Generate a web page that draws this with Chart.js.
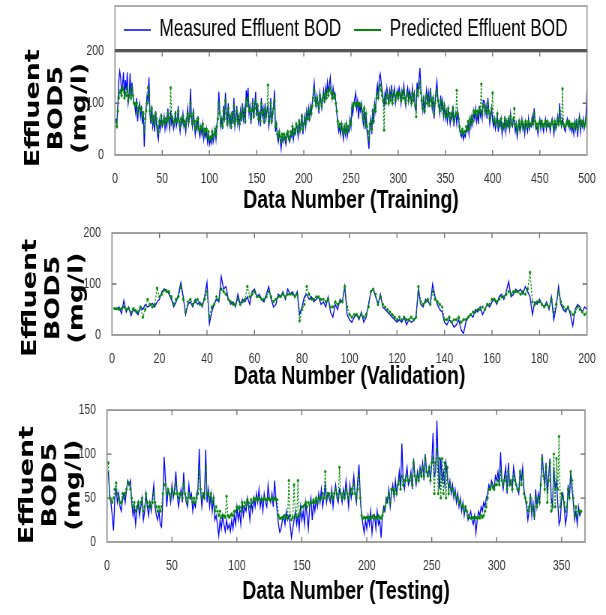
<!DOCTYPE html>
<html>
<head>
<meta charset="utf-8">
<script src="https://cdn.jsdelivr.net/npm/chart.js@4.4.1/dist/chart.umd.min.js"></script>
<style>
html,body{margin:0;padding:0;background:#fff;overflow:hidden;width:606px;height:615px;}
.panel{position:absolute;left:0;width:808px;transform:scaleX(0.75);transform-origin:0 0;}
canvas{display:block;}
</style>
</head>
<body>
<div class="panel" style="top:0;height:215px;"><canvas id="c1" width="808" height="215" style="width:808px;height:215px;"></canvas></div>
<div class="panel" style="top:215px;height:180px;"><canvas id="c2" width="808" height="180" style="width:808px;height:180px;"></canvas></div>
<div class="panel" style="top:395px;height:220px;"><canvas id="c3" width="808" height="220" style="width:808px;height:220px;"></canvas></div>
<script>
// ---------------- DATA ----------------
const seriesNames = ['Measured Effluent BOD', 'Predicted Effluent BOD'];
const yTitleLines = ['Effluent', 'BOD5', '(mg/l)'];
const xTitles = ['Data Number (Training)', 'Data Number (Validation)', 'Data Number (Testing)'];

const trainMeasured = [
70,60,95,140,162,150,120,135,160,110,
145,125,160,100,115,158,110,140,118,100,
95,80,110,65,90,100,75,95,60,85,
16,65,90,115,105,150,80,60,95,55,
70,45,85,60,40,30,65,50,80,55,
60,75,50,70,55,90,65,50,85,60,
70,50,60,85,55,65,95,60,45,70,
60,80,55,65,45,70,90,60,75,128,
70,55,90,60,40,65,50,75,45,35,
55,40,60,30,45,35,50,25,40,20,
30,22,45,25,35,50,30,60,75,122,
85,55,70,50,95,65,120,80,55,100,
60,75,50,85,60,110,55,70,95,60,
75,55,85,65,100,70,90,60,125,105,
130,80,95,60,85,110,70,95,122,75,
100,65,80,55,110,75,90,60,100,70,
85,95,55,70,110,60,80,95,125,45,
60,35,25,45,30,12,35,25,40,30,
20,35,45,30,25,40,35,55,30,45,
40,60,50,35,70,45,55,80,40,60,
75,55,85,70,90,65,95,80,100,120,
140,110,95,115,100,80,120,105,90,110,
125,100,130,115,140,120,135,150,125,110,
130,115,120,100,80,60,45,55,40,60,
45,30,55,40,60,35,50,45,70,55,
95,80,100,110,120,90,105,70,95,85,
100,75,60,95,50,80,45,30,12,55,
70,40,90,60,100,85,120,135,110,150,
157,140,125,110,95,120,105,130,115,100,
125,110,135,105,120,130,100,115,125,110,
130,120,100,125,115,135,110,95,120,130,
105,125,115,100,130,110,120,90,85,140,
120,145,168,130,100,85,115,80,105,125,
100,120,95,130,110,90,115,70,100,125,
142,110,95,80,115,90,105,75,95,70,
85,65,90,75,60,80,70,95,55,75,
80,60,85,70,50,40,35,45,30,40,
35,50,45,60,40,70,55,75,60,85,
70,90,65,80,60,95,75,85,70,105,
105,80,95,70,110,85,60,75,90,65,
55,70,50,60,80,45,65,55,70,40,
60,50,75,45,65,55,70,50,80,60,
55,70,65,45,60,35,50,65,45,55,
70,50,60,40,65,55,45,70,50,60,
55,75,60,90,65,50,55,40,60,70,
50,65,55,45,60,70,50,65,55,60,
45,60,70,55,40,65,50,60,75,55,
100,65,55,70,60,50,45,60,70,55,
65,50,60,45,55,40,65,50,70,35,
60,75,45,65,55,70,50,60,80,133
];
const trainPredicted = [
65,55,85,110,120,125,115,130,125,110,
120,115,130,105,115,125,110,130,115,100,
100,95,100,80,90,95,85,90,75,80,
45,70,85,100,130,115,85,70,90,65,
75,60,80,70,55,45,65,60,75,60,
65,70,60,70,65,80,70,60,130,75,
70,60,65,80,65,70,85,65,55,70,
65,75,60,65,55,70,80,65,75,100,
75,60,80,65,50,65,55,70,50,45,
55,50,60,40,50,45,50,35,45,30,
35,30,45,35,40,50,40,55,70,100,
80,60,70,55,85,70,105,80,60,90,
65,75,55,80,65,95,60,70,85,65,
75,60,80,70,90,75,85,65,105,95,
110,85,90,70,85,100,75,90,105,80,
95,70,80,65,100,80,85,65,90,75,
85,135,65,75,100,65,80,90,105,55,
60,40,35,45,35,25,40,30,40,35,
30,40,45,35,30,45,40,55,40,50,
45,60,55,45,65,50,60,75,50,60,
70,60,80,70,85,70,90,80,95,110,
125,105,95,110,100,90,115,105,95,110,
115,105,120,110,125,115,125,130,120,110,
120,110,115,100,85,65,55,60,50,60,
50,40,55,45,60,45,55,50,65,60,
90,95,100,100,95,100,100,95,100,95,
95,85,70,90,60,80,55,45,30,60,
65,50,85,65,95,85,110,120,110,130,
135,125,115,105,48,110,100,120,110,100,
115,105,125,100,115,120,105,115,120,110,
120,115,105,120,110,125,110,100,115,120,
105,115,110,100,120,105,115,95,74,125,
115,130,140,120,105,90,110,85,100,115,
100,110,95,120,105,95,110,80,100,115,
125,105,95,85,105,90,100,80,95,75,
85,75,90,80,70,80,75,90,65,75,
80,125,80,70,55,45,45,50,40,45,
45,55,50,65,50,70,60,75,65,85,
80,85,75,85,80,90,85,137,80,95,
95,85,90,80,100,85,70,80,90,120,
65,70,60,65,80,55,65,60,70,50,
60,55,70,55,65,60,70,55,75,60,
60,70,90,55,60,45,55,65,50,60,
65,55,60,50,65,60,55,65,55,60,
60,70,60,80,65,55,60,50,60,65,
55,65,60,55,60,65,55,65,60,60,
55,60,65,60,50,65,55,60,70,60,
85,65,60,128,60,55,55,60,65,60,
65,55,60,55,60,50,60,55,65,50,
60,70,55,65,60,65,55,60,70,55
];

const valMeasured = [
52,50,55,42,68,45,55,38,50,45,
40,55,50,60,55,58,62,55,65,70,
85,90,88,80,70,55,65,80,103,75,
40,60,65,55,70,60,65,55,75,103,
22,45,60,70,65,115,90,95,70,60,
65,55,80,60,70,65,75,60,85,90,
75,80,70,65,80,95,70,55,60,80,
75,85,70,90,80,85,75,85,40,55,
75,80,70,75,65,70,75,60,65,55,
75,45,35,60,50,70,65,95,40,30,
25,35,40,30,45,25,35,60,85,90,
75,60,80,55,50,45,40,35,30,25,
30,25,35,20,30,25,28,35,90,60,
55,70,65,60,100,75,60,50,45,25,
20,30,25,15,20,30,10,3,25,35,
40,35,50,45,55,40,50,60,55,65,
70,60,75,80,70,85,105,75,80,90,
85,90,80,95,85,75,40,65,60,70,
60,55,65,50,75,30,55,95,60,50,
45,55,40,18,50,60,55,45,55,50
];
const valPredicted = [
52,52,50,52,55,50,52,45,52,48,
45,55,35,50,70,60,55,60,92,75,
80,88,85,85,75,60,70,75,95,70,
45,65,70,60,65,70,60,60,70,85,
35,55,60,75,70,90,85,80,70,65,
60,60,70,60,65,70,95,75,80,85,
75,75,70,70,75,85,75,65,70,75,
75,80,75,80,80,80,75,80,28,50,
60,95,80,70,70,75,75,70,70,65,
70,55,55,65,60,65,65,95,55,40,
35,40,40,35,40,35,40,55,85,90,
80,60,75,60,55,50,45,40,35,30,
35,30,35,30,30,35,30,35,95,65,
60,65,70,60,85,70,65,60,55,30,
30,35,25,30,30,35,25,30,30,35,
40,45,45,50,50,55,50,60,60,70,
70,65,70,75,75,80,85,80,85,85,
85,80,85,80,90,123,65,60,65,65,
60,55,60,55,70,45,60,85,65,55,
50,55,45,40,45,55,50,45,40,45
];

const testMeasured = [
80,55,45,30,13,50,60,45,55,40,
35,50,55,45,60,70,65,70,45,30,
40,20,35,45,30,40,50,25,35,55,
40,30,45,35,50,65,40,30,25,35,
20,17,50,97,70,40,60,55,45,65,
50,60,80,55,40,50,60,45,79,55,
45,40,65,50,55,35,45,40,55,60,
106,60,40,55,50,105,45,60,40,55,
35,50,25,30,20,7,25,15,30,20,
12,25,15,20,12,25,15,30,20,40,
25,35,20,45,30,40,35,50,40,25,
45,35,50,40,55,45,60,40,50,35,
55,45,40,65,50,45,55,40,70,50,
35,20,11,15,25,30,20,35,25,30,
20,5,15,25,35,20,30,15,40,25,
35,20,45,30,15,40,50,25,45,35,
50,40,55,45,60,40,50,65,45,55,
50,45,60,40,55,65,50,45,60,55,
45,60,50,70,55,40,65,50,60,75,
55,45,70,88,50,30,20,10,25,15,
30,20,35,10,25,30,15,35,20,25,
5,30,40,35,50,45,60,40,55,65,
50,70,55,65,80,60,112,70,60,75,
85,65,70,80,60,95,75,65,80,70,
85,75,90,70,100,80,75,85,70,90,
124,75,80,138,85,60,95,70,80,65,
90,75,60,70,55,65,50,60,45,55,
40,50,35,45,30,40,35,25,30,35,
25,20,30,10,25,35,30,40,35,45,
40,50,55,65,60,70,65,60,75,70,
80,65,102,70,60,75,85,55,90,65,
70,60,85,75,65,60,55,80,70,85,
60,50,40,25,35,55,30,45,25,60,
40,55,45,70,100,80,65,90,55,75,
95,50,40,85,60,70,45,20,25,50,
55,40,20,30,65,50,80,60,45,25,
35,20,40,30,35
];
const testPredicted = [
90,50,48,45,50,60,67,55,50,45,
45,55,50,55,60,68,65,60,50,40,
45,35,40,45,38,45,50,35,40,55,
45,40,45,40,45,55,45,40,35,40,
35,40,55,65,65,55,60,55,50,60,
55,55,65,55,50,55,55,50,65,55,
50,45,55,50,50,45,50,45,50,55,
80,60,50,55,50,85,55,55,50,55,
45,50,35,40,35,30,35,28,30,30,
28,52,30,28,30,32,30,35,35,40,
38,40,35,45,40,45,42,48,45,40,
48,45,50,48,50,48,50,48,48,48,
50,48,48,50,48,48,50,48,50,48,
48,30,27,27,28,27,30,28,27,70,
30,25,28,65,30,28,70,30,35,40,
40,42,45,40,45,42,45,45,48,45,
50,45,50,48,50,55,50,80,50,55,
55,50,55,50,55,60,55,50,85,55,
50,55,50,60,55,50,55,60,55,65,
55,50,60,75,50,30,27,28,27,28,
27,28,27,28,30,27,28,27,30,28,
27,30,35,40,45,50,55,45,60,60,
55,60,55,65,70,60,75,65,70,70,
75,70,70,75,65,90,75,70,75,70,
80,75,85,75,95,80,75,85,70,90,
95,55,90,105,55,95,50,95,55,90,
50,85,55,65,60,60,55,55,50,50,
45,45,40,42,35,40,35,30,28,27,
27,28,27,28,27,28,27,30,28,30,
35,40,50,60,60,65,62,60,65,65,
70,65,80,70,65,70,75,60,80,65,
70,60,75,70,65,60,60,80,65,75,
55,50,45,35,40,50,35,40,30,50,
40,50,45,65,95,75,60,85,45,70,
90,35,40,100,40,95,60,120,40,55,
50,45,35,40,60,50,80,70,50,30,
40,30,35,35,35
];

// ---------------- RENDERING ----------------
const toPts = arr => arr.map((v, i) => ({x: i + 1, y: v}));
const TICK_FONT = {family: "'Liberation Sans', Arial, sans-serif", size: 14};
const XT_FONT = {family: "'Liberation Sans', Arial, sans-serif", size: 26, weight: 'bold', lineHeight: 1.08};
const YT_FONT = {family: "'DejaVu Sans', Verdana, sans-serif", size: 27, weight: 'bold', lineHeight: 1.137};

const framePlugin = {
  id: 'frame',
  afterLayout(chart, args, opts) {
    const s = chart.scales.y;
    if (!s._shifted) {
      const orig = s.drawTitle;
      s.drawTitle = function () { this.ctx.save(); this.ctx.translate(0, opts.dy || 0); orig.call(this); this.ctx.restore(); };
      s._shifted = true;
    }
    const lg = chart.legend;
    if (opts.legendDx && lg && !lg._shifted) {
      const origDraw = lg.draw;
      lg.draw = function () { this.ctx.save(); this.ctx.translate(opts.legendDx, 0); origDraw.apply(this, arguments); this.ctx.restore(); };
      lg._shifted = true;
    }
  },
  afterDatasetsDraw(chart, args, opts) {
    const {ctx, chartArea: {left, right, top, bottom}, scales: {x, y}} = chart;
    ctx.save();
    ctx.strokeStyle = '#8a8a8a';
    ctx.lineWidth = 1.6;
    ctx.strokeRect(left, top, right - left, bottom - top);
    ctx.strokeStyle = '#6a6a6a';
    ctx.lineWidth = 1.3;
    ctx.beginPath();
    x.ticks.forEach(t => {
      const px = x.getPixelForValue(t.value);
      if (px <= left + 1 || px >= right - 1) return;
      ctx.moveTo(px, bottom); ctx.lineTo(px, bottom - 5);
      ctx.moveTo(px, top); ctx.lineTo(px, top + 5);
    });
    y.ticks.forEach(t => {
      const py = y.getPixelForValue(t.value);
      if (py <= top + 1 || py >= bottom - 1) return;
      ctx.moveTo(left, py); ctx.lineTo(left + 6, py);
      ctx.moveTo(right, py); ctx.lineTo(right - 6, py);
    });
    ctx.stroke();
    if (opts.legendBox) {
      ctx.strokeStyle = '#9a9a9a';
      ctx.lineWidth = 1.6;
      ctx.strokeRect(left, 6, right - left, top - 6);
      ctx.strokeStyle = '#555';
      ctx.lineWidth = 3;
      ctx.beginPath(); ctx.moveTo(left, top - 1); ctx.lineTo(right, top - 1); ctx.stroke();
    }
    ctx.restore();
  }
};

function legendLabels(chart) {
  const items = Chart.defaults.plugins.legend.labels.generateLabels(chart);
  items.forEach(it => { it.lineWidth = it.datasetIndex === 0 ? 1.6 : 2.2; });
  return items;
}

function makeChart(id, cfg) {
  const datasets = [
    {label: seriesNames[0], data: toPts(cfg.measured), borderColor: '#0000ff', backgroundColor: '#0000ff',
     borderWidth: 1.3, pointRadius: 0, pointBorderWidth: 1, pointBorderColor: '#0000ff', tension: 0, order: 1},
    {label: seriesNames[1], data: toPts(cfg.predicted), borderColor: '#008a00', backgroundColor: '#008a00',
     borderWidth: 1.2, borderDash: [2, 1.5], pointRadius: 1.3, pointBorderWidth: 0.5,
     pointBorderColor: '#008a00', pointBackgroundColor: '#008a00', tension: 0, order: 0}
  ];
  return new Chart(document.getElementById(id), {
    type: 'line',
    data: {datasets},
    options: {
      responsive: false,
      animation: false,
      devicePixelRatio: 1,
      events: [],
      layout: {padding: cfg.padding},
      plugins: {
        legend: cfg.legend ? {
          display: true, position: 'top', align: 'start',
          labels: {usePointStyle: true, pointStyle: 'line', pointStyleWidth: 36, boxWidth: 36,
                   padding: 17, color: '#000', font: {family: "'Liberation Sans', Arial, sans-serif", size: 23},
                   generateLabels: legendLabels,
                   sort: (a, b) => a.datasetIndex - b.datasetIndex}
        } : {display: false},
        tooltip: {enabled: false},
        frame: {legendBox: !!cfg.legend, dy: cfg.titleDy, legendDx: cfg.legendDx || 0}
      },
      scales: {
        x: {
          type: 'linear', min: 0, max: cfg.xMax,
          grid: {display: false}, border: {display: false},
          ticks: {stepSize: cfg.xStep, autoSkip: false, maxRotation: 0, includeBounds: false, padding: 8, color: '#333', font: TICK_FONT},
          title: {display: true, text: cfg.xTitle, color: '#000', font: XT_FONT, padding: {top: 0, bottom: cfg.xTitlePad}},
          afterFit(s) { s.height = cfg.xHeight; }
        },
        y: {
          type: 'linear', position: 'left', min: 0, max: cfg.yMax,
          grid: {display: false}, border: {display: false},
          ticks: {stepSize: cfg.yStep, padding: 6.7, color: '#333', font: TICK_FONT},
          title: {display: true, text: yTitleLines, color: '#000', font: YT_FONT, padding: {top: cfg.yTitlePad, bottom: 0}},
          afterFit(s) { s.width = cfg.yWidth; }
        }
      }
    },
    plugins: [framePlugin]
  });
}

makeChart('c1', {
  measured: trainMeasured, predicted: trainPredicted, legend: true, legendDx: 148,
  padding: {top: 1.5, left: 0, right: 25.3, bottom: 0},
  xMax: 500, xStep: 50, yMax: 200, yStep: 100,
  xTitle: xTitles[0], xTitlePad: 0, xHeight: 60,
  yWidth: 153.3, yTitlePad: 30, titleDy: 5
});
makeChart('c2', {
  measured: valMeasured, predicted: valPredicted, legend: false,
  padding: {top: 18, left: 0, right: 25.3, bottom: 0},
  xMax: 200, xStep: 20, yMax: 200, yStep: 100,
  xTitle: xTitles[1], xTitlePad: 4, xHeight: 60,
  yWidth: 149.3, yTitlePad: 26, titleDy: 14
});
makeChart('c3', {
  measured: testMeasured, predicted: testPredicted, legend: false,
  padding: {top: 10, left: 0, right: 28, bottom: 0},
  xMax: 368, xStep: 50, yMax: 150, yStep: 50,
  xTitle: xTitles[2], xTitlePad: 9, xHeight: 73,
  yWidth: 142.7, yTitlePad: 22, titleDy: 9
});
</script>
</body>
</html>
